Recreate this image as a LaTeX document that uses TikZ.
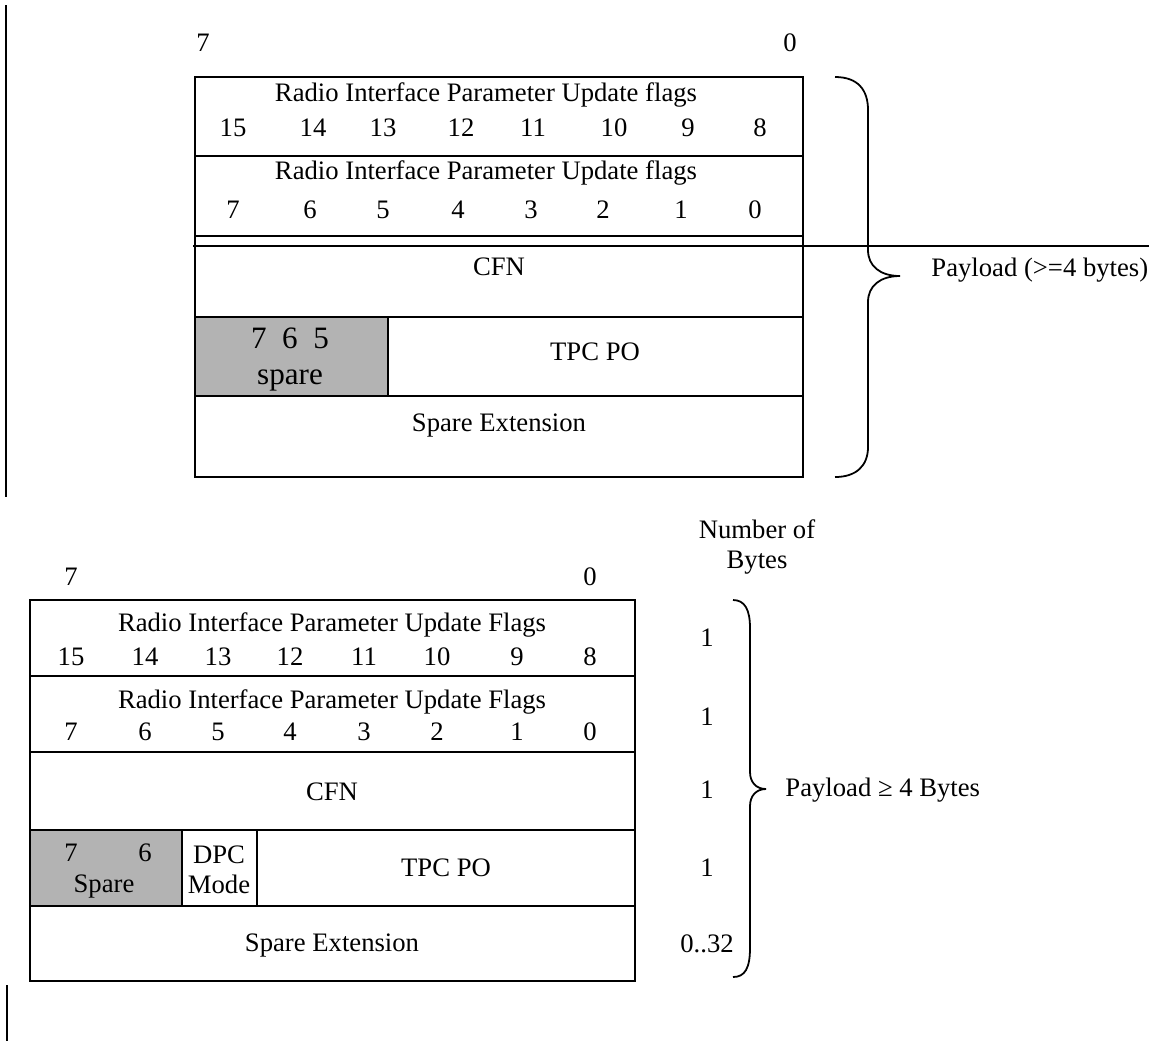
\documentclass[tikz,border=0pt]{standalone}
\usepackage{fontspec}
\setmainfont{Liberation Serif}
\definecolor{sparegray}{RGB}{179,179,179}
\tikzset{
    field/.style={draw, line width=0.8pt},
    thickfield/.style={draw, line width=1.2pt},
    txt/.style={inner sep=0pt, font=\fontsize{12}{13.5}\selectfont},
    bigtxt/.style={inner sep=0pt, anchor=base, font=\fontsize{14}{16}\selectfont},
    bracket/.style={line width=0.8pt},
}

\begin{document}
\begin{tikzpicture}[x=0.45pt, y=-0.45pt]
    \useasboundingbox (0,0) rectangle (1149,1041);
    %
    % upper frame
    \draw[line width=0.8pt] (6,5) -- (6,497);
    \node[txt] (upMsb) at (203,43) {7};
    \node[txt] (upLsb) at (790,43) {0};
    \draw[field] (195,77) rectangle (803,477);
    \foreach \y in {156,236,317,396}
        \draw[field] (195,\y) -- (803,\y);
    \draw[field, fill=sparegray] (195,317) rectangle (388,396);
    \draw[line width=0.8pt] (193,246) -- (1149,246);
    %
    \node[txt] (upFlagsHi) at (486,95) {Radio Interface Parameter Update flags};
    \foreach \b/\x in {15/233,14/313,13/383,12/461,11/533,10/614,9/688,8/760}
        \node[txt] (upHi\b) at (\x,128) {\b};
    \node[txt] (upFlagsLo) at (486,173) {Radio Interface Parameter Update flags};
    \foreach \b/\x in {7/233,6/310,5/383,4/458,3/531,2/603,1/681,0/755}
        \node[txt] (upLo\b) at (\x,210) {\b};
    \node[txt] (upCfn) at (499,267) {CFN};
    \node[bigtxt] (upBits) at (290,348) {7\ \ 6\ \ 5};
    \node[bigtxt] (upSpare) at (290,384) {spare};
    \node[txt] (upTpc) at (595,352) {TPC PO};
    \node[txt] (upExt) at (499,425) {Spare Extension};
    %
    \draw[bracket] (835,77) .. controls (858,77) and (868,90) .. (868,110)
        -- (868,250) .. controls (868,266) and (880,276) .. (900,276)
        .. controls (880,276) and (868,286) .. (868,302)
        -- (868,447) .. controls (868,466) and (856,477) .. (835,477);
    \node[txt, anchor=west] (upPayload) at (931,270) {Payload (>=4 bytes)};
    %
    % lower frame
    \draw[line width=0.8pt] (7,985) -- (7,1041);
    \node[txt] (loMsb) at (71,577) {7};
    \node[txt] (loLsb) at (590,577) {0};
    \node[txt, align=center] (loCount) at (757,547) {Number of\\Bytes};
    \draw[field] (30,600) rectangle (635,981);
    \draw[field] (30,676) -- (635,676);
    \draw[thickfield] (30,752) -- (635,752);
    \draw[field, fill=sparegray] (30,830) rectangle (182,906);
    \draw[field] (257,830) -- (257,906);
    \draw[thickfield] (30,830) -- (635,830);
    \draw[thickfield] (30,906) -- (635,906);
    %
    \node[txt] (loFlagsHi) at (332,625) {Radio Interface Parameter Update Flags};
    \foreach \b/\x in {15/71,14/145,13/218,12/290,11/364,10/437,9/517,8/590}
        \node[txt] (loHi\b) at (\x,657) {\b};
    \node[txt] (loFlagsLo) at (332,702) {Radio Interface Parameter Update Flags};
    \foreach \b/\x in {7/71,6/145,5/218,4/290,3/364,2/437,1/517,0/590}
        \node[txt] (loLo\b) at (\x,732) {\b};
    \node[txt] (loCfn) at (332,792) {CFN};
    \node[txt] (loBit7) at (71,853) {7};
    \node[txt] (loBit6) at (145,853) {6};
    \node[txt] (loSpare) at (104,886) {Spare};
    \node[txt, align=center] (loDpc) at (219,870) {DPC\\Mode};
    \node[txt] (loTpc) at (446,868) {TPC PO};
    \node[txt] (loExt) at (332,945) {Spare Extension};
    %
    \foreach \n/\y in {1/638,2/717,3/790,4/868}
        \node[txt] (loBytes\n) at (707,\y) {1};
    \node[txt] (loBytes5) at (707,944) {0..32};
    \draw[bracket] (733,600) .. controls (745,600) and (750,610) .. (750,628)
        -- (750,772) .. controls (750,782) and (756,789) .. (766,789)
        .. controls (756,789) and (750,796) .. (750,806)
        -- (750,948) .. controls (750,968) and (745,977) .. (733,977);
    \node[txt, anchor=west] (loPayload) at (785,790) {Payload ≥ 4 Bytes};
\end{tikzpicture}
\end{document}
